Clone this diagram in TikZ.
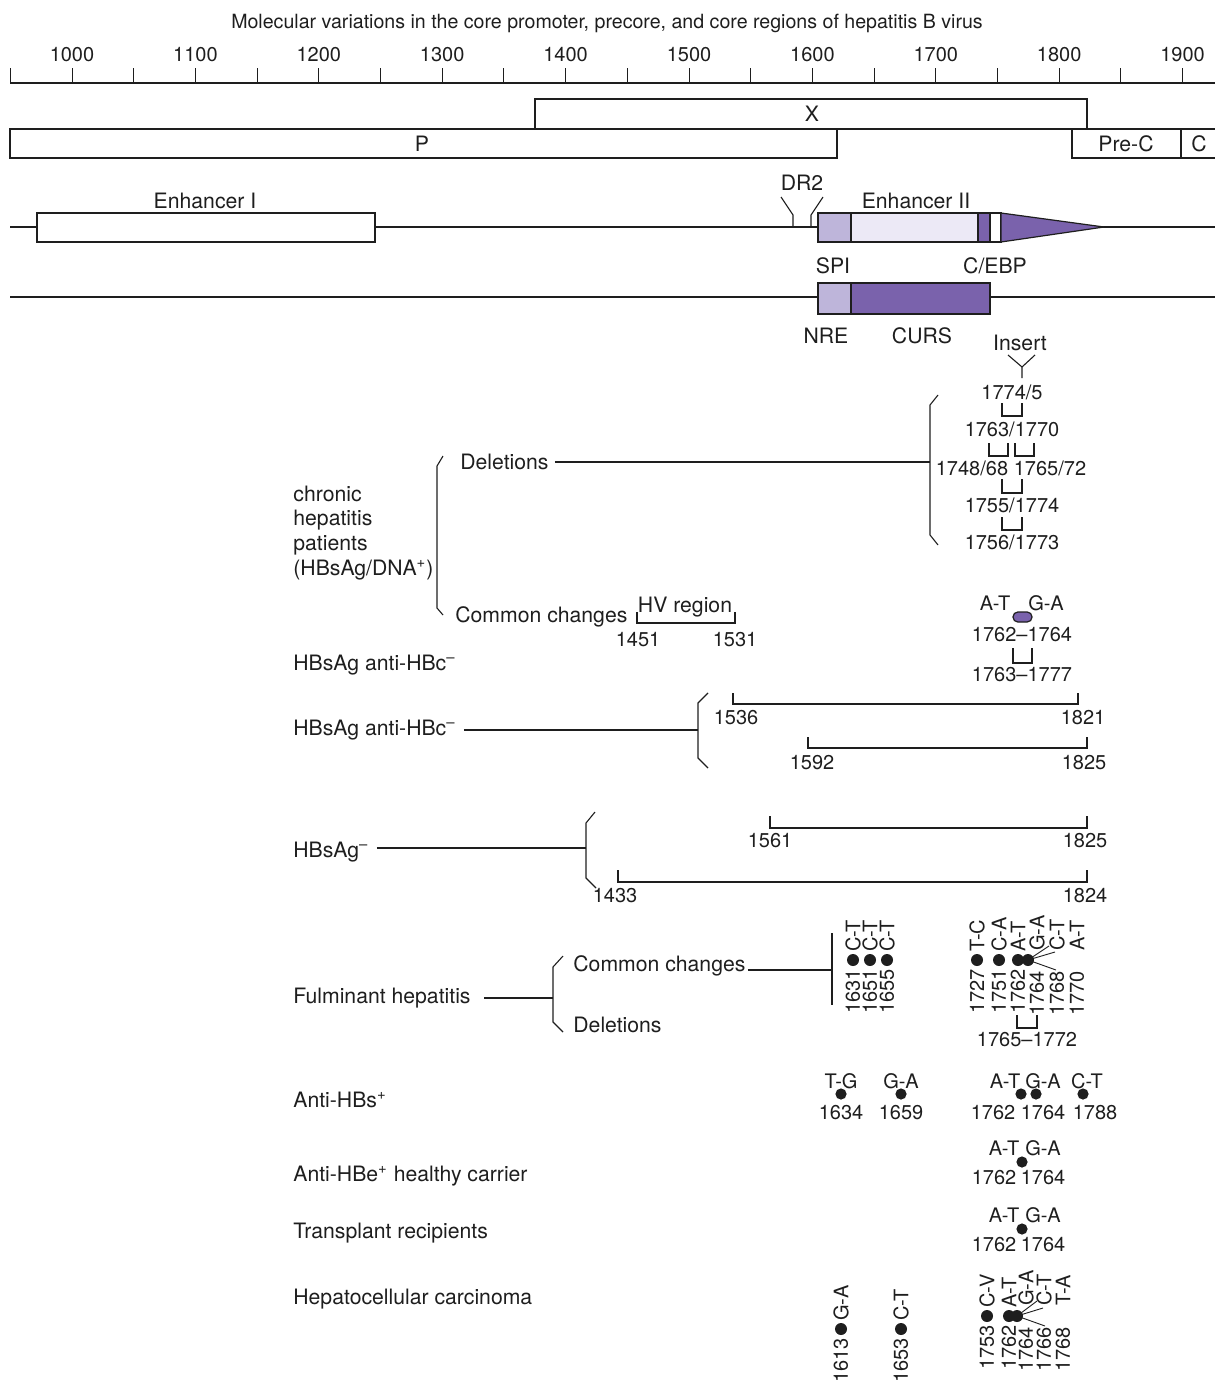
\documentclass[tikz,border=0pt]{standalone}
\usepackage{fontspec}
\setmainfont{TeX Gyre Heros}
\usepackage{tikz}
\usetikzlibrary{positioning, calc}
\definecolor{hbvdark}{RGB}{122,98,172}
\definecolor{hbvmid}{RGB}{190,181,218}
\definecolor{hbvlight}{RGB}{236,233,246}
\definecolor{hbvink}{RGB}{30,30,30}
\tikzset{
  lbl/.style={inner sep=0pt, font=\fontsize{10}{12}\selectfont, text=hbvink},
  wlbl/.style={lbl, font=\fontsize{10.6}{12.5}\selectfont},
  leftlbl/.style={wlbl, anchor=west},
  vnum/.style={lbl, rotate=90, anchor=east},
  vmut/.style={lbl, rotate=90, anchor=west},
  mdot/.style={circle, fill=hbvink, inner sep=0pt, minimum size=6pt},
  seg/.style={draw=hbvink, line width=0.6pt},
  line/.style={draw=hbvink, line width=0.55pt},
  tick/.style={draw=hbvink, line width=0.5pt}
}
\newcommand{\sminus}{\textsuperscript{\textendash}}
\newcommand{\splus}{\textsuperscript{+}}
\begin{document}
\begin{tikzpicture}[x=0.5pt, y=-0.5pt]
  \useasboundingbox (0,0) rectangle (1215,1381);

  % Title and scale
  \node[lbl, font=\fontsize{9.8}{12}\selectfont] (title) at (607,23) {Molecular variations in the core promoter, precore, and core regions of hepatitis B virus};
  \draw[line] (10,83) -- (1215,83);
  \foreach \n in {950,1000,...,1900}
    \draw[tick] ({72+(\n-1000)*1.234},68) -- ++(0,15);
  \foreach \n in {1000,1100,...,1900}
    \node[lbl] (ax\n) at ({72+(\n-1000)*1.234},55) {\n};

  % Open reading frames
  \draw[seg] (535,99) rectangle (1087,129);
  \node[wlbl] (orfx) at (812,114) {X};
  \draw[seg] (10,129) rectangle (837,158);
  \node[wlbl] (orfp) at (422,144) {P};
  \draw[seg] (1072,129) rectangle (1181,158);
  \node[wlbl] (orfprec) at (1126,144) {Pre-C};
  \draw[seg] (1181,129) rectangle (1216,158);
  \node[wlbl] (orfc) at (1199,144) {C};
  \draw[line, line width=1.2pt] (10,129) -- (1215,129);

  % Enhancers
  \draw[line] (10,227) -- (1215,227);
  \draw[seg, fill=white] (37,213) rectangle (375,242);
  \node[wlbl] (enh1) at (205,201) {Enhancer I};
  \draw[line] (781,197) -- (793,215) -- (793,227);
  \draw[line] (823,197) -- (811,215) -- (811,227);
  \node[wlbl] (dr2) at (802,183) {DR2};
  \fill[hbvmid] (818,213) rectangle (851,242);
  \fill[hbvlight] (851,213) rectangle (978,242);
  \fill[hbvdark] (978,213) rectangle (990,242);
  \fill[white] (990,213) rectangle (1001,242);
  \draw[seg] (818,213) rectangle (1001,242);
  \draw[seg] (851,213) -- (851,242) (978,213) -- (978,242) (990,213) -- (990,242);
  \draw[seg, fill=hbvdark] (1001,213) -- (1104,227) -- (1001,242) -- cycle;
  \node[wlbl] (enh2) at (916,201) {Enhancer II};
  \node[wlbl] (spi) at (833,266) {SPI};
  \node[wlbl] (cebp) at (995,266) {C/EBP};

  % Core promoter
  \draw[line] (10,297) -- (1215,297);
  \draw[seg, fill=hbvmid] (818,283) rectangle (851,314);
  \draw[seg, fill=hbvdark] (851,283) rectangle (990,314);
  \node[wlbl] (nre) at (826,336) {NRE};
  \node[wlbl] (curs) at (922,336) {CURS};

  % Chronic hepatitis: deletions
  \node[wlbl] (insert) at (1020,343) {Insert};
  \draw[line] (1008,355) -- (1022,367) -- (1035,355) (1022,367) -- (1022,378);
  \node[lbl] (d1) at (1012,392) {1774/5};
  \draw[line] (1002,403) -- (1002,416) -- (1022,416) -- (1022,403);
  \node[lbl] (d2) at (1012,429) {1763/1770};
  \draw[line] (989,443) -- (989,456) -- (1008,456) -- (1008,443);
  \draw[line] (1015,443) -- (1015,456) -- (1034,456) -- (1034,443);
  \node[lbl] (d3) at (972,468) {1748/68};
  \node[lbl] (d4) at (1050,468) {1765/72};
  \draw[line] (1002,479) -- (1002,493) -- (1022,493) -- (1022,479);
  \node[lbl] (d5) at (1012,505) {1755/1774};
  \draw[line] (1002,517) -- (1002,530) -- (1022,530) -- (1022,517);
  \node[lbl] (d6) at (1012,542) {1756/1773};
  \draw[line] (938,395) -- (930,405) -- (930,535) -- (938,545);
  \coordinate (delbrace) at (930,462);

  \node[leftlbl] (chronic) at (293,494) {chronic};
  \node[leftlbl] (chronic2) at (293,520) {hepatitis};
  \node[leftlbl] (chronic3) at (293,545) {patients};
  \node[leftlbl] (chronic4) at (293,570) {(HBsAg/DNA\splus)};
  \draw[line] (443,456) -- (437,466) -- (437,608) -- (443,615);
  \node[leftlbl] (chrdel) at (460,462) {Deletions};
  \draw[line] ([xshift=3pt]chrdel.east) -- (delbrace);
  \node[leftlbl] (chrcom) at (455,617) {Common changes};

  % HV region
  \draw[line] (637,612) -- (637,623) -- (735,623) -- (735,612);
  \node[wlbl] (hv) at (685,607) {HV region};
  \node[lbl] (hv1) at (638,640) {1451};
  \node[lbl] (hv2) at (735,640) {1531};

  % Core promoter double mutation
  \node[lbl] (at1) at (995,603) {A-T};
  \node[lbl] (ga1) at (1046,603) {G-A};
  \draw[seg, fill=hbvdark, rounded corners=2.4pt] (1013,612) rectangle (1032,622);
  \node[lbl] (cp1) at (1022,635) {1762\textendash1764};
  \draw[line] (1013,648) -- (1013,663) -- (1032,663) -- (1032,648);
  \node[lbl] (cp2) at (1022,675) {1763\textendash1777};

  % HBsAg anti-HBc-
  \node[leftlbl] (hbc1) at (293,665) {HBsAg anti-HBc\sminus};
  \node[leftlbl] (hbc2) at (293,730) {HBsAg anti-HBc\sminus};
  \coordinate (hbcbrace) at (698,730);
  \draw[line] ([xshift=4pt]hbc2.east) -- (hbcbrace);
  \draw[line] (708,693) -- (698,703) -- (698,758) -- (708,768);
  \draw[line] (733,693) -- (733,704) -- (1078,704) -- (1078,693);
  \node[lbl] (r1a) at (736,718) {1536};
  \node[lbl] (r1b) at (1083,718) {1821};
  \draw[line] (808,737) -- (808,748) -- (1087,748) -- (1087,737);
  \node[lbl] (r2a) at (812,763) {1592};
  \node[lbl] (r2b) at (1084,763) {1825};

  % HBsAg-
  \node[leftlbl] (hbs) at (293,852) {HBsAg\sminus};
  \coordinate (hbsbrace) at (586,848);
  \draw[line] ([xshift=4pt]hbs.east |- hbsbrace) -- (hbsbrace);
  \draw[line] (595,812) -- (586,823) -- (586,878) -- (596,888);
  \draw[line] (770,816) -- (770,828) -- (1087,828) -- (1087,816);
  \node[lbl] (r3a) at (770,841) {1561};
  \node[lbl] (r3b) at (1085,841) {1825};
  \draw[line] (618,870) -- (618,882) -- (1087,882) -- (1087,870);
  \node[lbl] (r4a) at (615,896) {1433};
  \node[lbl] (r4b) at (1085,896) {1824};

  % Fulminant hepatitis
  \node[leftlbl] (fh) at (293,998) {Fulminant hepatitis};
  \coordinate (fhbrace) at (553,998);
  \draw[line] (484,998) -- (fhbrace);
  \draw[line] (563,956) -- (553,967) -- (553,1022) -- (563,1032);
  \node[leftlbl] (fhcom) at (573,966) {Common changes};
  \node[leftlbl] (fhdel) at (573,1025) {Deletions};
  \coordinate (fhbar) at (832,970);
  \draw[line] ([xshift=1pt]fhcom.east |- fhbar) -- (fhbar);
  \draw[line] (832,933) -- (832,1005);
  \foreach \x/\n/\m in {853/1631/C-T, 870/1651/C-T, 887/1655/C-T, 977/1727/T-C, 999/1751/C-A, 1018/1762/A-T} {
    \node[mdot] (fd\n) at (\x,960) {};
    \node[vnum] (fn\n) at (\x,969) {\n};
    \node[vmut] (fm\n) at (\x,952) {\m};
  }
  \node[mdot] (fd1764) at (1028,960) {};
  \foreach \x/\n/\m in {1037/1764/G-A, 1057/1768/C-T, 1077/1770/A-T} {
    \node[vnum] (fn\n) at (\x,971) {\n};
    \node[vmut] (fm\n) at (\x,951) {\m};
  }
  \draw[line, line width=0.45pt] (fd1764.center) -- (1049,946) (fd1764.center) -- (1055,952)
    (fd1764.center) -- (1056,970);
  \draw[line] (1017,1015) -- (1017,1028) -- (1037,1028) -- (1037,1015);
  \node[lbl] (fdel) at (1027,1040) {1765\textendash1772};

  % Anti-HBs+
  \node[leftlbl] (ahbs) at (293,1100) {Anti-HBs\splus};
  \foreach \x/\n/\m in {841/1634/T-G, 901/1659/G-A} {
    \node[mdot, minimum size=5.6pt] (sd\n) at (\x,1094) {};
    \node[lbl] (sm\n) at (\x,1081) {\m};
    \node[lbl] (sn\n) at (\x,1113) {\n};
  }
  \node[mdot, minimum size=5.6pt] (sd1762) at (1021,1094) {};
  \node[mdot, minimum size=5.6pt] (sd1764) at (1036,1094) {};
  \node[mdot, minimum size=5.6pt] (sd1788) at (1083,1094) {};
  \node[lbl] (sm1762) at (1005,1081) {A-T};
  \node[lbl] (sm1764) at (1043,1081) {G-A};
  \node[lbl] (sm1788) at (1087,1081) {C-T};
  \node[lbl] (sn1762) at (993,1113) {1762};
  \node[lbl] (sn1764) at (1043,1113) {1764};
  \node[lbl] (sn1788) at (1095,1113) {1788};

  % Anti-HBe+ healthy carrier and transplant recipients
  \node[leftlbl] (ahbe) at (293,1176) {Anti-HBe\splus{} healthy carrier};
  \node[leftlbl] (trans) at (293,1233) {Transplant recipients};
  \foreach \y/\k in {1162/e, 1229/t} {
    \node[mdot, minimum size=5.6pt] (\k dot) at (1022,\y) {};
    \node[lbl] (\k at) at (1004,\y-14) {A-T};
    \node[lbl] (\k ga) at (1043,\y-14) {G-A};
    \node[lbl] (\k n1) at (994,\y+16) {1762};
    \node[lbl] (\k n2) at (1043,\y+16) {1764};
  }

  % Hepatocellular carcinoma
  \node[leftlbl] (hcc) at (293,1299) {Hepatocellular carcinoma};
  \foreach \x/\n/\m in {841/1613/G-A, 901/1653/C-T} {
    \node[mdot] (hd\n) at (\x,1329) {};
    \node[vnum] (hn\n) at (\x,1338) {\n};
    \node[vmut] (hm\n) at (\x,1321) {\m};
  }
  \foreach \x/\n/\m in {987/1753/C-V, 1009/1762/A-T} {
    \node[mdot] (hd\n) at (\x,1316) {};
    \node[vnum] (hn\n) at (\x,1325) {\n};
    \node[vmut] (hm\n) at (\x,1308) {\m};
  }
  \node[mdot] (hd1764) at (1017,1316) {};
  \foreach \x/\n/\m in {1026/1764/G-A, 1044/1766/C-T, 1063/1768/T-A} {
    \node[vnum] (hn\n) at (\x,1327) {\n};
    \node[vmut] (hm\n) at (\x,1306) {\m};
  }
  \draw[line, line width=0.45pt] (hd1764.center) -- (1037,1301) (hd1764.center) -- (1043,1308)
    (hd1764.center) -- (1045,1326);
\end{tikzpicture}
\end{document}
